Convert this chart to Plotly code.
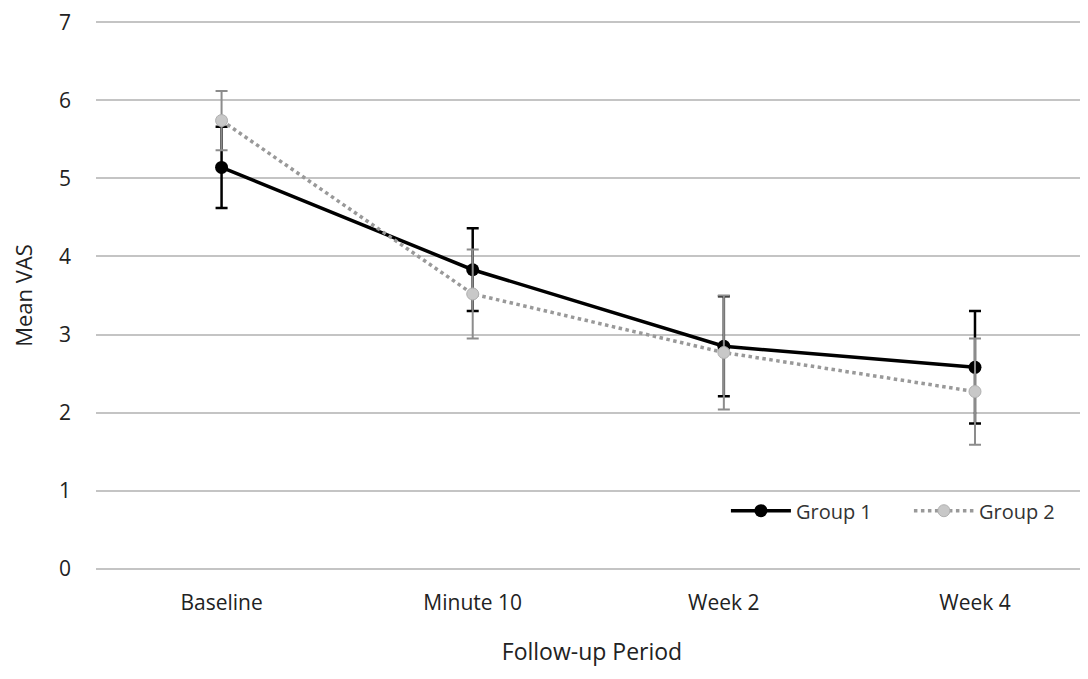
import plotly.graph_objects as go

categories = ["Baseline", "Minute 10", "Week 2", "Week 4"]
group1_mean = [5.14, 3.83, 2.85, 2.58]
group1_err = [0.52, 0.53, 0.64, 0.72]
group2_mean = [5.74, 3.52, 2.77, 2.27]
group2_err = [0.38, 0.57, 0.73, 0.68]
y_ticks = [0, 1, 2, 3, 4, 5, 6, 7]

FONT = "Open Sans, Lato, sans-serif"
xs = list(range(len(categories)))

fig = go.Figure()
fig.add_trace(go.Scatter(
    x=xs, y=group1_mean, name="Group 1", mode="lines+markers",
    line=dict(color="#000000", width=3.5),
    marker=dict(color="#000000", size=13),
    error_y=dict(type="data", array=group1_err, visible=True,
                 color="#000000", thickness=2.5, width=6),
))
fig.add_trace(go.Scatter(
    x=xs, y=group2_mean, name="Group 2", mode="lines+markers",
    line=dict(color="#999999", width=3.5, dash="dot"),
    marker=dict(color="#c8c8c8", size=12,
                line=dict(color="#b0b0b0", width=1)),
    error_y=dict(type="data", array=group2_err, visible=True,
                 color="#8c8c8c", thickness=2, width=6),
))

# page body has an 8px margin, so the figure is shifted by (8, 8)
fig.update_layout(
    width=1080, height=671,
    margin=dict(l=88, r=0, t=13, b=109, autoexpand=False),
    paper_bgcolor="white", plot_bgcolor="white",
    font=dict(family=FONT, size=21, color="#222222"),
    showlegend=True,
    legend=dict(orientation="h", x=0.635, y=0.108, xanchor="left", yanchor="middle",
                bgcolor="rgba(255,255,255,0)", font=dict(size=20, color="#333333"),
                traceorder="normal", entrywidth=108, itemwidth=60),
    xaxis=dict(
        tickmode="array", tickvals=xs, ticktext=categories,
        range=[-0.5, 3.45], showgrid=False, zeroline=False, showline=False,
        ticks="", ticklabelstandoff=18, tickfont=dict(size=21),
        title=dict(text="Follow-up Period", font=dict(size=23), standoff=28),
    ),
    yaxis=dict(
        range=[-0.015, 7.015], tickvals=y_ticks, showgrid=True, gridcolor="#c4c4c4",
        gridwidth=1.5, zeroline=False, showline=False, ticks="",
        ticklabelstandoff=24, tickfont=dict(size=21), ticklabeloverflow="allow",
        title=dict(text="Mean VAS", font=dict(size=22), standoff=22),
    ),
)

fig.write_html("out.html")
